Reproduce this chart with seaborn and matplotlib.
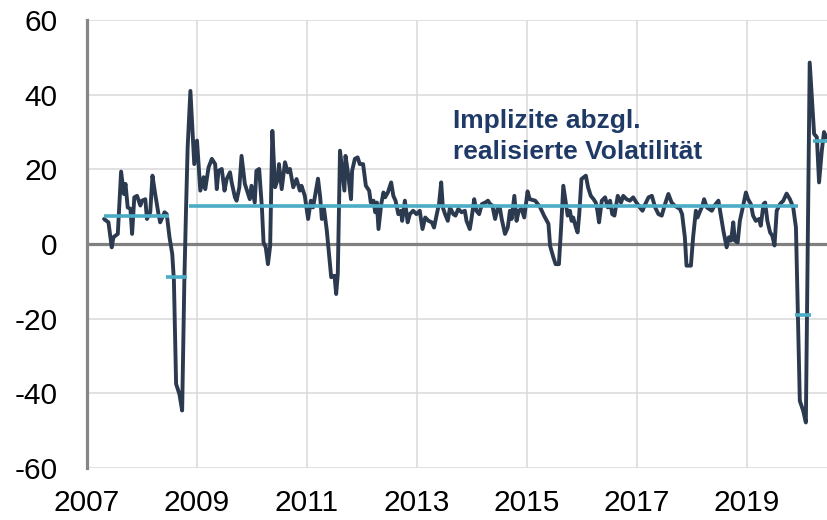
import matplotlib
matplotlib.use("Agg")
import matplotlib.pyplot as plt
import seaborn as sns
import pandas as pd

# ---- data ----
years = [
    2007.31, 2007.39, 2007.45, 2007.48, 2007.56, 2007.62, 2007.67, 2007.70, 2007.74, 2007.79,
    2007.82, 2007.86, 2007.91, 2007.97, 2008.00, 2008.06, 2008.09, 2008.15, 2008.19, 2008.24,
    2008.30, 2008.33, 2008.41, 2008.45, 2008.50, 2008.55, 2008.58, 2008.62, 2008.68, 2008.73,
    2008.77, 2008.80, 2008.83, 2008.88, 2008.93, 2008.95, 2009.00, 2009.06, 2009.12, 2009.15,
    2009.21, 2009.27, 2009.33, 2009.36, 2009.39, 2009.45, 2009.50, 2009.54, 2009.60, 2009.63,
    2009.69, 2009.72, 2009.77, 2009.81, 2009.87, 2009.92, 2009.96, 2009.99, 2010.05, 2010.08,
    2010.13, 2010.18, 2010.21, 2010.25, 2010.29, 2010.33, 2010.37, 2010.42, 2010.47, 2010.49,
    2010.54, 2010.60, 2010.65, 2010.69, 2010.75, 2010.81, 2010.87, 2010.90, 2010.96, 2011.02,
    2011.07, 2011.11, 2011.20, 2011.24, 2011.27, 2011.31, 2011.36, 2011.44, 2011.50, 2011.53,
    2011.56, 2011.60, 2011.64, 2011.68, 2011.70, 2011.74, 2011.80, 2011.82, 2011.87, 2011.92,
    2011.96, 2012.02, 2012.07, 2012.13, 2012.16, 2012.21, 2012.24, 2012.27, 2012.30, 2012.35,
    2012.39, 2012.42, 2012.47, 2012.53, 2012.57, 2012.61, 2012.66, 2012.71, 2012.73, 2012.78,
    2012.83, 2012.87, 2012.93, 2012.99, 2013.05, 2013.10, 2013.15, 2013.21, 2013.27, 2013.31,
    2013.36, 2013.40, 2013.44, 2013.47, 2013.51, 2013.56, 2013.60, 2013.66, 2013.70, 2013.75,
    2013.81, 2013.87, 2013.90, 2013.96, 2013.99, 2014.04, 2014.08, 2014.13, 2014.18, 2014.24,
    2014.29, 2014.33, 2014.37, 2014.42, 2014.47, 2014.51, 2014.54, 2014.60, 2014.65, 2014.69,
    2014.72, 2014.77, 2014.81, 2014.85, 2014.90, 2014.95, 2015.01, 2015.05, 2015.15, 2015.24,
    2015.31, 2015.39, 2015.42, 2015.48, 2015.52, 2015.58, 2015.62, 2015.66, 2015.70, 2015.74,
    2015.78, 2015.81, 2015.84, 2015.89, 2015.92, 2015.95, 2015.99, 2016.07, 2016.11, 2016.16,
    2016.21, 2016.25, 2016.28, 2016.31, 2016.36, 2016.42, 2016.47, 2016.51, 2016.55, 2016.59,
    2016.65, 2016.71, 2016.75, 2016.81, 2016.87, 2016.93, 2016.99, 2017.05, 2017.10, 2017.15,
    2017.21, 2017.27, 2017.33, 2017.39, 2017.45, 2017.51, 2017.57, 2017.63, 2017.69, 2017.78,
    2017.82, 2017.87, 2017.90, 2017.98, 2018.02, 2018.07, 2018.10, 2018.15, 2018.19, 2018.22,
    2018.27, 2018.31, 2018.36, 2018.41, 2018.48, 2018.53, 2018.57, 2018.63, 2018.67, 2018.71,
    2018.75, 2018.78, 2018.83, 2018.87, 2018.91, 2018.98, 2019.02, 2019.07, 2019.11, 2019.16,
    2019.22, 2019.25, 2019.30, 2019.33, 2019.37, 2019.42, 2019.46, 2019.50, 2019.54, 2019.60,
    2019.66, 2019.72, 2019.78, 2019.84, 2019.89, 2019.96, 2020.02, 2020.07, 2020.14, 2020.19,
    2020.22, 2020.27, 2020.31, 2020.36, 2020.40, 2020.44,
]
spread = [
    6.7, 5.8, -0.9, 1.8, 2.7, 19.4, 13.4, 16.1, 9.8, 9.4,
    2.7, 12.5, 12.9, 10.3, 11.6, 12.0, 6.7, 8.5, 18.3, 13.4,
    8.0, 5.8, 8.5, 8.0, 1.8, -2.7, -9.8, -37.5, -40.2, -44.6,
    -9.8, 8.9, 25.9, 41.0, 26.8, 21.4, 27.7, 14.3, 17.9, 14.7,
    20.5, 22.8, 21.4, 14.7, 19.6, 20.1, 14.3, 17.4, 19.2, 16.5,
    12.5, 11.6, 15.2, 23.6, 16.1, 13.8, 12.0, 15.6, 11.1, 19.6,
    20.1, 9.8, 0.4, -0.9, -5.4, -0.5, 30.3, 15.2, 17.4, 21.4,
    14.7, 21.9, 19.2, 20.1, 15.2, 17.4, 14.3, 15.6, 12.9, 6.7,
    11.6, 9.8, 17.5, 12.5, 6.7, 9.4, 3.6, -8.9, -8.5, -13.4,
    -8.0, 25.0, 19.6, 14.3, 23.6, 19.6, 12.0, 19.6, 22.8, 23.2,
    21.4, 21.4, 15.6, 14.3, 11.1, 11.6, 8.5, 11.1, 4.0, 10.7,
    13.8, 12.5, 13.8, 16.5, 12.9, 11.6, 8.0, 8.9, 6.2, 11.6,
    5.8, 8.0, 8.9, 8.0, 8.9, 4.0, 7.1, 6.2, 5.8, 4.4,
    8.0, 10.7, 16.5, 9.8, 8.0, 6.2, 9.8, 8.0, 7.6, 9.4,
    8.5, 8.9, 6.2, 4.0, 6.7, 12.0, 8.9, 8.0, 10.7, 11.1,
    11.6, 10.7, 10.3, 6.7, 9.8, 9.4, 6.7, 2.7, 4.4, 8.9,
    6.7, 12.9, 6.2, 8.9, 9.4, 7.1, 14.1, 12.0, 11.6, 9.8,
    7.6, 5.4, -0.5, -3.6, -5.4, -5.4, 4.4, 15.6, 11.6, 7.6,
    8.9, 6.2, 7.1, 4.4, 3.1, 8.0, 17.4, 18.3, 15.2, 12.9,
    12.0, 11.1, 8.9, 5.8, 11.6, 12.5, 9.8, 11.6, 8.0, 7.6,
    12.9, 11.1, 12.9, 12.0, 11.6, 12.5, 11.1, 9.8, 8.9, 10.7,
    12.5, 12.9, 9.8, 8.0, 7.6, 10.7, 13.4, 11.1, 10.2, 9.4,
    8.0, 1.8, -5.8, -5.8, 1.8, 8.9, 7.1, 8.9, 10.3, 12.0,
    9.8, 9.4, 8.9, 10.3, 11.6, 7.1, 3.6, -0.9, 1.8, 0.9,
    5.8, 0.9, 0.4, 6.2, 8.9, 13.8, 12.0, 10.7, 7.6, 6.2,
    6.7, 4.9, 10.7, 11.1, 6.2, 3.1, 2.2, -0.4, 8.9, 10.7,
    11.6, 13.5, 12.0, 9.8, 4.4, -42.0, -44.6, -47.8, 48.6, 36.6,
    29.5, 28.6, 16.5, 25.0, 30.0, 28.6,
]

# regime averages (horizontal segments)
seg_start = [2007.30, 2008.44, 2008.85, 2019.88, 2020.20]
seg_end = [2008.49, 2008.82, 2019.93, 2020.16, 2020.46]
seg_level = [7.5, -8.9, 10.2, -18.9, 27.6]

y_ticks = [-60, -40, -20, 0, 20, 40, 60]
x_ticks = [2007, 2009, 2011, 2013, 2015, 2017, 2019]
annotation = ["Implizite abzgl.", "realisierte Volatilität"]

# ---- style ----
sns.set_style("white")
plt.rcParams["font.family"] = ["Liberation Sans", "DejaVu Sans"]
plt.rcParams["axes.unicode_minus"] = False

NAVY = "#2C3A50"
CYAN = "#4BACC6"
GRID = "#D9D9D9"
AXIS_GRAY = "#868686"
TEXT_BLUE = "#1F3A66"

fig = plt.figure(figsize=(8.27, 5.2), dpi=100)
ax = fig.add_axes([87 / 827, 52 / 520, 740 / 827, 448 / 520])

df = pd.DataFrame({"year": years, "spread": spread})

ax.axhline(0, color="#808080", lw=2.3, zorder=2)

sns.lineplot(data=df, x="year", y="spread", ax=ax, color=NAVY, lw=2.8,
             estimator=None, sort=False, zorder=3,
             solid_joinstyle="round", solid_capstyle="round")

seg_rows = []
for i, (s, e, lvl) in enumerate(zip(seg_start, seg_end, seg_level)):
    seg_rows.append({"seg": i, "year": s, "level": lvl})
    seg_rows.append({"seg": i, "year": e, "level": lvl})
seg_df = pd.DataFrame(seg_rows)
sns.lineplot(data=seg_df, x="year", y="level", units="seg", estimator=None,
             ax=ax, color=CYAN, lw=2.6, zorder=4, solid_capstyle="butt")

ax.set_xlim(2007, 2020.4545)
ax.set_ylim(-60, 60)
ax.set_xticks(x_ticks)
ax.set_xticklabels([str(t) for t in x_ticks])
ax.set_yticks(y_ticks)
ax.set_yticklabels([str(t) for t in y_ticks])
ax.set_xlabel("")
ax.set_ylabel("")

ax.grid(True, color=GRID, lw=1.1, zorder=0)
ax.set_axisbelow(True)
for side in ["top", "right", "bottom"]:
    ax.spines[side].set_visible(False)
ax.spines["left"].set_color(AXIS_GRAY)
ax.spines["left"].set_linewidth(2.3)
ax.spines["left"].set_zorder(5)

ax.tick_params(axis="y", length=0, pad=21, labelsize=21.5, labelcolor="black")
ax.tick_params(axis="x", length=0, pad=15, labelsize=21.5, labelcolor="black")

ax.text(2013.65, 31.1, annotation[0], fontsize=19, fontweight="bold",
        color=TEXT_BLUE, ha="left", va="baseline", zorder=6)
ax.text(2013.65, 22.8, annotation[1], fontsize=19, fontweight="bold",
        color=TEXT_BLUE, ha="left", va="baseline", zorder=6)

fig.savefig("out.png", dpi=100)
